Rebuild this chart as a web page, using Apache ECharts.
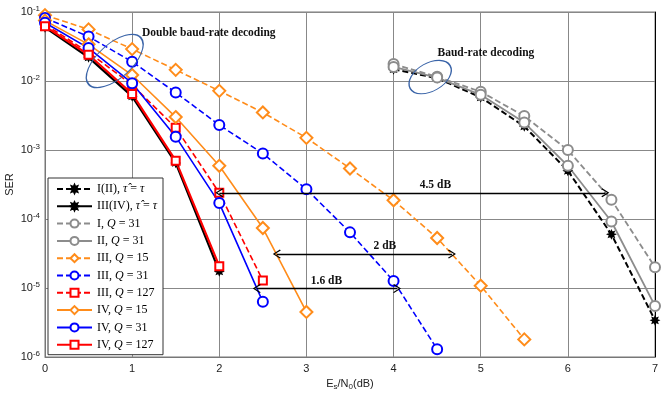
<!DOCTYPE html>
<html>
<head>
<meta charset="utf-8">
<script src="https://cdn.jsdelivr.net/npm/echarts@6/dist/echarts.min.js"></script>
<style>
html,body{margin:0;padding:0;background:#fff}
#chart{width:664px;height:395px}
</style>
</head>
<body>
<div id="chart"></div>
<script>
// Es/N0 (dB)
var snrLeft = [0, 0.5, 1, 1.5, 2, 2.5, 3, 3.5, 4, 4.5, 5, 5.5];
var snrRight = [4, 4.5, 5, 5.5, 6, 6.5, 7];

// SER values
var serI_II_ideal   = [0.0148, 0.0110, 0.0058, 0.0022, 5.0e-4, 6.0e-5, 3.4e-6];
var serIII_IV_ideal = [0.060, 0.022, 0.0060, 6.5e-4, 1.74e-5];
var serI_Q31    = [0.0176, 0.0115, 0.0070, 0.0031, 0.0010, 1.9e-4, 2.0e-5];
var serII_Q31   = [0.0160, 0.0112, 0.0063, 0.0025, 5.9e-4, 9.2e-5, 5.5e-6];
var serIII_Q15  = [0.090, 0.056, 0.029, 0.0145, 0.0072, 0.0035, 0.0015, 5.4e-4, 1.87e-4, 5.3e-5, 1.08e-5, 1.8e-6];
var serIII_Q31  = [0.082, 0.044, 0.019, 0.0068, 0.0023, 8.9e-4, 2.7e-4, 6.4e-5, 1.26e-5, 1.3e-6];
var serIII_Q127 = [0.066, 0.026, 0.0088, 0.0021, 2.4e-4, 1.28e-5];
var serIV_Q15   = [0.075, 0.034, 0.0122, 0.0030, 5.9e-4, 7.4e-5, 4.5e-6];
var serIV_Q31   = [0.070, 0.030, 0.0093, 0.00156, 1.7e-4, 6.3e-6];
var serIV_Q127  = [0.062, 0.024, 0.0065, 7.0e-4, 2.07e-5];

var legendNames = [
    'I(II), τ\u0302 = τ',
    'III(IV), τ\u0302 = τ',
    'I, Q = 31',
    'II, Q = 31',
    'III, Q = 15',
    'III, Q = 31',
    'III, Q = 127',
    'IV, Q = 15',
    'IV, Q = 31',
    'IV, Q = 127'
];

var yTickExp = [-6, -5, -4, -3, -2, -1];

var ORANGE = '#ff8c1a', BLUE = '#0000ff', RED = '#ff0000', GRAY = '#8c8c8c', BLACK = '#000000';
var STAR = 'path://M5,0L2.6,1.1L3.54,3.54L1.1,2.6L0,5L-1.1,2.6L-3.54,3.54L-2.6,1.1L-5,0L-2.6,-1.1L-3.54,-3.54L-1.1,-2.6L0,-5L1.1,-2.6L3.54,-3.54L2.6,-1.1Z';
var CHEVRON = 'path://M5,0L10,7.5L9,8.5L5,2.2L1,8.5L0,7.5Z';

function pairs(xs, ys) {
    var out = [];
    for (var i = 0; i < ys.length; i++) out.push([xs[i], ys[i]]);
    return out;
}

function mk(name, xs, ys, color, dashed, symbol, size, width) {
    return {
        name: name,
        type: 'line',
        data: pairs(xs, ys),
        symbol: symbol,
        symbolSize: size,
        showAllSymbol: true,
        animation: false,
        lineStyle: {color: color, width: width, type: dashed ? [6, 3] : 'solid'},
        itemStyle: {color: color, borderColor: color, borderWidth: 1.6}
    };
}

var serif = 'Liberation Serif, DejaVu Serif, serif';
var sans = 'Liberation Sans, Arial, sans-serif';

var myChart = echarts.init(document.getElementById('chart'));
var option = {
    backgroundColor: '#fff',
    animation: false,
    grid: {left: 45, right: 9, top: 12, bottom: 38, show: true, borderColor: '#777', borderWidth: 1,
        containLabel: false, outerBoundsMode: 'none'},
    legend: {
        orient: 'vertical',
        left: 48,
        top: 178,
        data: legendNames,
        itemWidth: 35,
        itemHeight: 10,
        itemGap: 5.3,
        padding: [5, 6, 4, 8],
        backgroundColor: '#fff',
        borderColor: '#333',
        borderWidth: 1,
        borderRadius: 0,
        selectedMode: false,
        textStyle: {
            fontFamily: serif, fontSize: 12, color: '#000',
            rich: {i: {fontFamily: serif, fontSize: 12, fontStyle: 'italic', color: '#000'}}
        },
        formatter: function (n) {
            return n.replace('Q', '{i|Q}').replace('τ\u0302 = τ', '{i|τ\u0302} = {i|τ}');
        }
    },
    xAxis: {
        type: 'value',
        min: 0, max: 7, interval: 1,
        name: 'E{sub|s}/N{sub|0}(dB)',
        nameLocation: 'middle',
        nameGap: 20,
        nameMoveOverlap: false,
        nameTextStyle: {
            fontFamily: sans, fontSize: 11, color: '#222',
            rich: {sub: {fontFamily: sans, fontSize: 8, verticalAlign: 'bottom', padding: [6, 0, 0, 0], color: '#222'}}
        },
        axisLine: {show: true, lineStyle: {color: '#777'}},
        axisTick: {show: false},
        axisLabel: {fontFamily: sans, fontSize: 11, color: '#222', margin: 6},
        splitLine: {show: true, lineStyle: {color: '#888', width: 1}}
    },
    yAxis: [{
        type: 'log',
        logBase: 10,
        min: 1e-6, max: 0.1,
        name: 'SER',
        nameLocation: 'middle',
        nameGap: 30,
        nameMoveOverlap: false,
        nameTextStyle: {fontFamily: sans, fontSize: 11, color: '#222'},
        axisLine: {show: true, lineStyle: {color: '#777'}},
        axisTick: {show: false},
        axisLabel: {
            fontFamily: sans, fontSize: 11, color: '#222', margin: 5,
            formatter: function (v) {
                var e = Math.round(Math.log(v) / Math.LN10);
                return yTickExp.indexOf(e) >= 0 ? '10{sup|' + e + '}' : '';
            },
            rich: {sup: {fontFamily: sans, fontSize: 8, verticalAlign: 'top', padding: [0, 0, 7, 0], color: '#222'}}
        },
        splitLine: {show: true, lineStyle: {color: '#888', width: 1}},
        minorSplitLine: {show: false}
    }, {
        type: 'log',
        logBase: 10,
        min: 1e-6, max: 0.1,
        position: 'right',
        axisLine: {show: true, lineStyle: {color: '#000', width: 1}},
        axisTick: {show: false},
        axisLabel: {show: false},
        splitLine: {show: false}
    }],
    series: [
        mk(legendNames[0], snrRight, serI_II_ideal, BLACK, true, STAR, 7, 2),
        mk(legendNames[1], snrLeft, serIII_IV_ideal, BLACK, false, STAR, 7, 2.2),
        mk(legendNames[2], snrRight, serI_Q31, GRAY, true, 'emptyCircle', 10, 1.8),
        mk(legendNames[3], snrRight, serII_Q31, GRAY, false, 'emptyCircle', 10, 1.8),
        mk(legendNames[4], snrLeft, serIII_Q15, ORANGE, true, 'emptyDiamond', 12, 1.6),
        mk(legendNames[5], snrLeft, serIII_Q31, BLUE, true, 'emptyCircle', 10, 1.6),
        mk(legendNames[6], snrLeft, serIII_Q127, RED, true, 'emptyRect', 8, 1.6),
        mk(legendNames[7], snrLeft, serIV_Q15, ORANGE, false, 'emptyDiamond', 12, 1.6),
        mk(legendNames[8], snrLeft, serIV_Q31, BLUE, false, 'emptyCircle', 10, 1.6),
        mk(legendNames[9], snrLeft, serIV_Q127, RED, false, 'emptyRect', 8, 2.2),
        {
            // annotations: gain arrows, ellipses and notes
            name: 'annot',
            type: 'line',
            data: [],
            animation: false,
            markLine: {
                silent: true,
                animation: false,
                symbol: [CHEVRON, CHEVRON],
                symbolSize: [9, 8],
                label: {show: false},
                lineStyle: {color: '#000', width: 1.3, type: 'solid'},
                data: [
                    [{coord: [2, 2.4e-4]}, {coord: [6.43, 2.4e-4]}],
                    [{coord: [2.66, 3.1e-5]}, {coord: [4.67, 3.1e-5]}],
                    [{coord: [2.43, 9.8e-6]}, {coord: [4.04, 9.8e-6]}]
                ]
            },
            markPoint: {
                silent: true,
                animation: false,
                data: [
                    {coord: [0.8, 0.0195], symbol: 'circle', symbolSize: [70, 34], symbolRotate: 42,
                        itemStyle: {color: 'transparent', borderColor: '#3a64a8', borderWidth: 1.2}, label: {show: false}},
                    {coord: [4.42, 0.0114], symbol: 'circle', symbolSize: [46, 28], symbolRotate: 30,
                        itemStyle: {color: 'transparent', borderColor: '#3a64a8', borderWidth: 1.2}, label: {show: false}},
                    {coord: [1.88, 0.0497], value: 'Double baud-rate decoding', label: {offset: [0, 0]}},
                    {coord: [5.06, 0.0255], value: 'Baud-rate decoding', label: {offset: [0, 0]}},
                    {coord: [4.48, 2.4e-4], value: '4.5 dB'},
                    {coord: [3.9, 3.1e-5], value: '2 dB'},
                    {coord: [3.23, 9.8e-6], value: '1.6 dB'}
                ],
                symbol: 'circle',
                symbolSize: 0,
                itemStyle: {color: 'transparent'},
                label: {
                    show: true,
                    position: 'inside',
                    offset: [0, -8],
                    formatter: '{c}',
                    fontFamily: serif,
                    fontWeight: 'bold',
                    fontSize: 11.5,
                    color: '#111'
                }
            }
        }
    ]
};
myChart.setOption(option);
</script>
</body>
</html>
